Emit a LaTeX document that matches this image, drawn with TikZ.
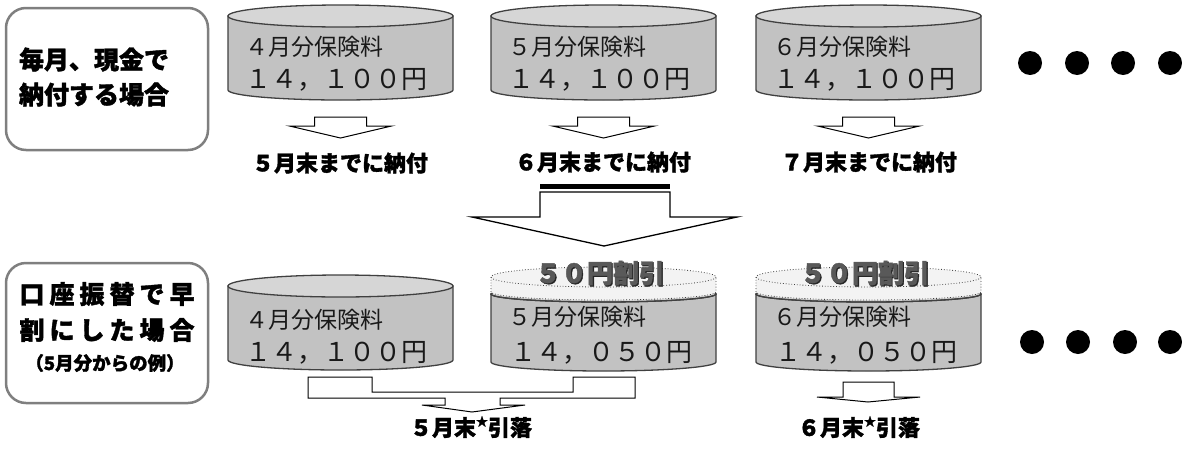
\documentclass[tikz,border=0pt]{standalone}
\usepackage{fontspec}
\setmainfont{Noto Sans CJK JP}[BoldFeatures={FakeBold=1.6}]
\definecolor{boxgray}{HTML}{7F7F7F}
\definecolor{cylbody}{HTML}{C2C2C2}
\definecolor{cyltop}{HTML}{D6D6D6}
\definecolor{cylline}{HTML}{404040}
\definecolor{diskfill}{HTML}{F3F3F3}
\definecolor{discount}{HTML}{595959}
\newcommand{\mycyl}[5]{% cx, ytop, ry top, ybottom, ry bottom
  \filldraw[cylstroke, fill=cylbody] (#1-112.5,#2) -- (#1-112.5,#4)
     arc[start angle=180, end angle=0, x radius=112.5, y radius=#5] -- (#1+112.5,#2) -- cycle;
  \filldraw[cylstroke, fill=cyltop] (#1,#2) ellipse[x radius=112.5, y radius=#3];
}
\newcommand{\mydisk}[1]{% cx
  \fill[diskfill] (#1-112.5,277) -- (#1-112.5,292)
     arc[start angle=180, end angle=0, x radius=112.5, y radius=8] -- (#1+112.5,277) -- cycle;
  \draw[cylstroke] (#1-112.5,294) arc[start angle=180, end angle=0, x radius=112.5, y radius=8];
  \draw[diskline] (#1-112.5,277) -- (#1-112.5,292)
     arc[start angle=180, end angle=0, x radius=112.5, y radius=8] -- (#1+112.5,277);
  \filldraw[diskline, fill=diskfill] (#1,277) ellipse[x radius=112.5, y radius=10];
}
\newcommand{\myarrow}[1]{%
  \draw[arrline] (#1-26,117) -- (#1+26,117) -- (#1+26,126) -- (#1+51,126) -- (#1,138)
     -- (#1-51,126) -- (#1-26,126) -- cycle;
}
\begin{document}
\begin{tikzpicture}[x=1pt,y=-1pt,
  labelbox/.style={draw=boxgray, line width=2.5pt, rounded corners=20pt, fill=white, inner sep=0pt},
  cylstroke/.style={draw=cylline, line width=1.3pt},
  diskline/.style={draw=cylline, line width=0.8pt, dotted},
  arrline/.style={draw=black, line width=1pt, fill=white, line join=miter},
  boxtext/.style={font=\fontsize{25}{35}\selectfont\bfseries, align=center, inner sep=0pt},
  monthtext/.style={font=\fontsize{23}{23}\selectfont, anchor=west, inner sep=0pt, text=black!90},
  amttext/.style={font=\fontsize{26}{26}\selectfont, anchor=west, inner sep=0pt, text=black!90},
  duetext/.style={font=\fontsize{22}{22}\selectfont\bfseries, inner sep=0pt},
  disctext/.style={font=\fontsize{26}{26}\selectfont\bfseries, inner sep=0pt},
  dot/.style={fill=black}
]
\useasboundingbox (0,0) rectangle (1182,450);

% ---------- top row ----------
\node[labelbox, minimum width=202pt, minimum height=142pt] (boxA) at (107,79) {};
\node[boxtext] (boxAtext) at (94,77) {毎月、現金で\\納付する場合};

\mycyl{340.5}{16}{11}{90}{10}
\mycyl{603.5}{16}{11}{90}{10}
\mycyl{868.5}{16}{11}{90}{10}

\node[monthtext] (m1) at (245,47) {４月分保険料};
\node[amttext]   (a1) at (245,80) {１４，１００円};
\node[monthtext] (m2) at (508,47) {５月分保険料};
\node[amttext]   (a2) at (508,80) {１４，１００円};
\node[monthtext] (m3) at (773,47) {６月分保険料};
\node[amttext]   (a3) at (773,80) {１４，１００円};

\myarrow{340.5}
\myarrow{603.5}
\myarrow{868.5}

\node[duetext] (d1) at (340,163) {５月末までに納付};
\node[duetext] (d2) at (603,162) {６月末までに納付};
\node[duetext] (d3) at (869,162) {７月末までに納付};

\foreach \x in {1030,1077,1123,1170} \fill[dot] (\x,63) circle[radius=12pt];

% ---------- big arrow ----------
\fill[black] (540,184) rectangle (670,189);
\draw[arrline, line width=1.3pt] (540,192) -- (670,192) -- (670,217) -- (737,217) -- (604,246)
   -- (472,217) -- (540,217) -- cycle;

% ---------- bottom row ----------
\node[labelbox, minimum width=202pt, minimum height=140pt] (boxB) at (107,333) {};
\node[font=\fontsize{25}{25}\selectfont\bfseries, inner sep=0pt] (b1) at (107,294)
  {口\hspace{5pt}座\hspace{5pt}振\hspace{5pt}替\hspace{5pt}で\hspace{5pt}早};
\node[font=\fontsize{25}{25}\selectfont\bfseries, inner sep=0pt] (b2) at (107,330)
  {割\hspace{5pt}に\hspace{5pt}し\hspace{5pt}た\hspace{5pt}場\hspace{5pt}合};
\node[font=\fontsize{18.5}{18.5}\selectfont\bfseries, inner sep=0pt] (b3) at (105,363)
  {（5月分からの例）};

\mycyl{340.5}{286}{11}{360}{10}
\mycyl{603.5}{294}{8}{362}{9}
\mycyl{868.5}{294}{8}{362}{9}
\mydisk{603.5}
\mydisk{868.5}

\node[disctext, text=black!85] at (601.2,274.2) {５０円割引};
\node[disctext, text=discount] (disc2) at (600,273) {５０円割引};
\node[disctext, text=black!85] at (866.2,274.2) {５０円割引};
\node[disctext, text=discount] (disc3) at (865,273) {５０円割引};

\node[monthtext] (m4) at (245,320) {４月分保険料};
\node[amttext]   (a4) at (245,353) {１４，１００円};
\node[monthtext] (m5) at (508,317) {５月分保険料};
\node[amttext]   (a5) at (510,353) {１４，０５０円};
\node[monthtext] (m6) at (773,317) {６月分保険料};
\node[amttext]   (a6) at (775,353) {１４，０５０円};

\draw[arrline] (308,377) -- (372,377) -- (372,392) -- (573,392) -- (573,377) -- (635,377)
   -- (635,398) -- (500,398) -- (500,405) -- (525,405) -- (472,412) -- (422,405)
   -- (445,405) -- (445,398) -- (308,398) -- cycle;

\draw[arrline] (843,382) -- (894,382) -- (894,397) -- (920,397) -- (868,402) -- (817,397)
   -- (843,397) -- cycle;

\node[duetext] (e1) at (471,427) {５月末\raisebox{0.45em}{\fontsize{12}{12}\selectfont ★}引落};
\node[duetext] (e2) at (859,427) {６月末\raisebox{0.45em}{\fontsize{12}{12}\selectfont ★}引落};

\foreach \x in {1032,1078,1125,1170} \fill[dot] (\x,342) circle[radius=12pt];
\end{tikzpicture}
\end{document}
